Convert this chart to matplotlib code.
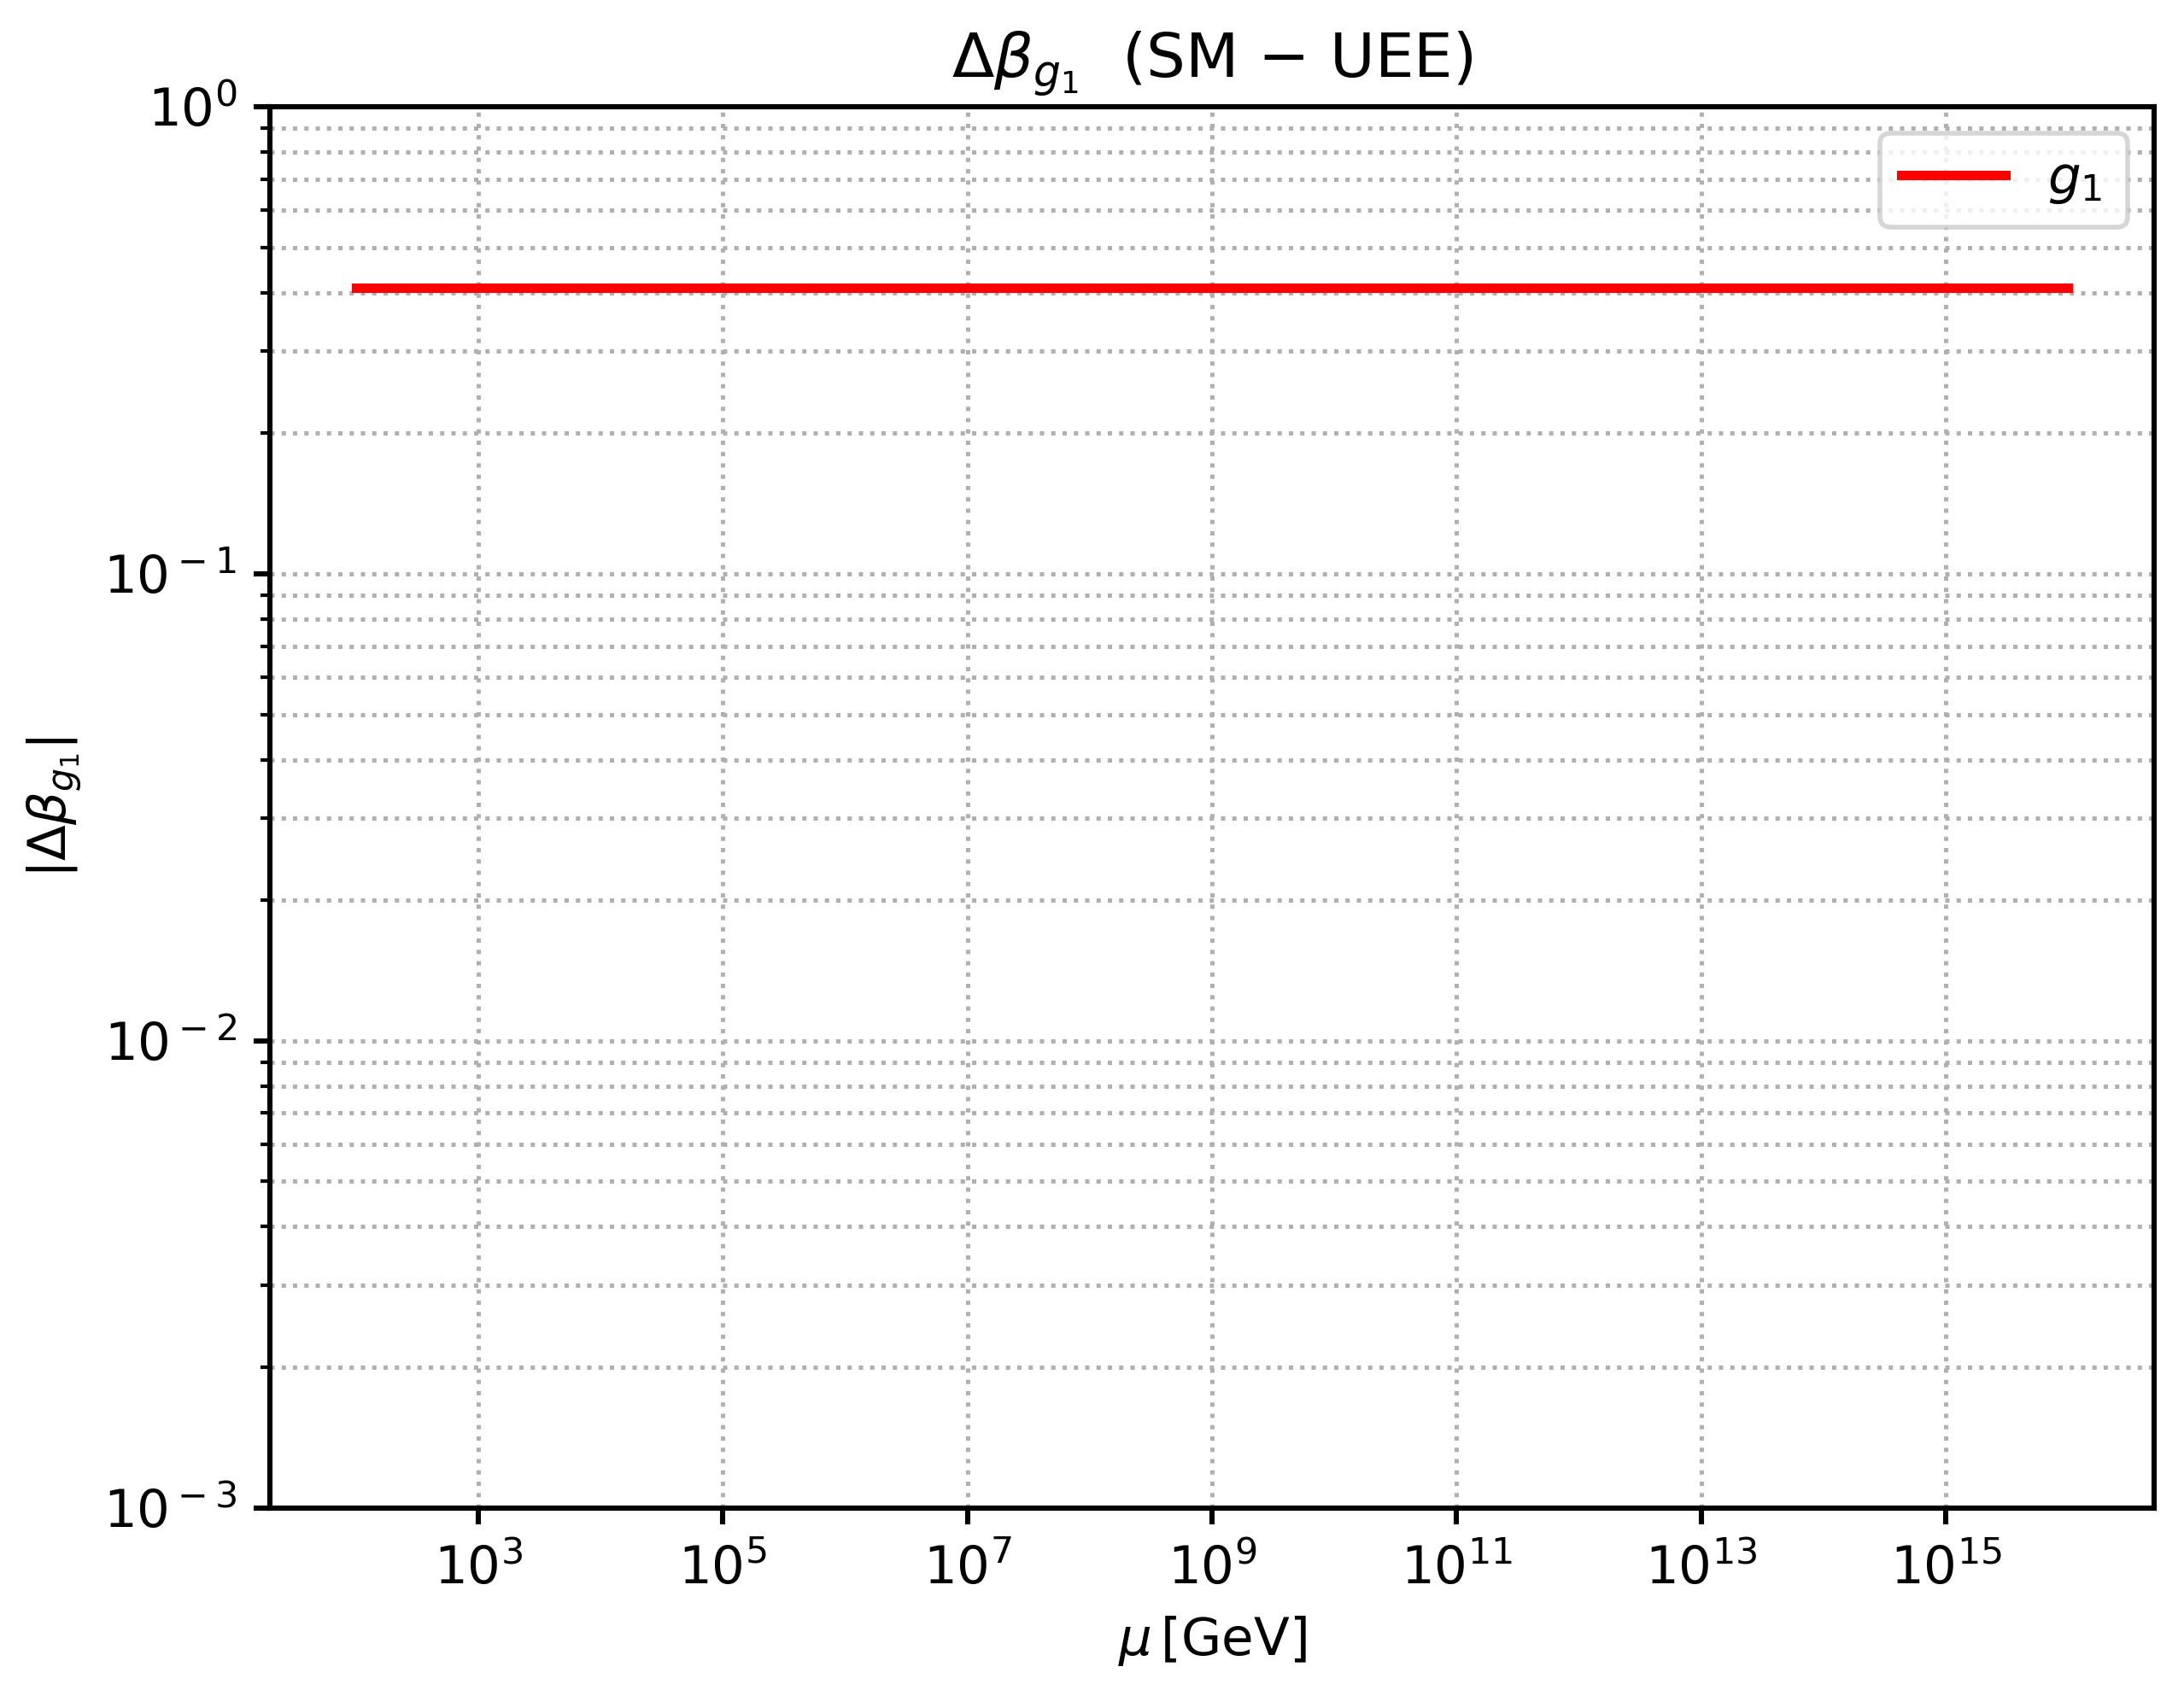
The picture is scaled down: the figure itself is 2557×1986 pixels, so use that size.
import numpy as np
import matplotlib
matplotlib.use("Agg")
import matplotlib.pyplot as plt
from matplotlib.ticker import NullLocator, FixedLocator, FuncFormatter

# Data
mu_gev = [1e2, 1e16]
delta_beta_g1 = [0.41, 0.41]
series_label = "$g_1$\u2009"
x_ticks = [1e3, 1e5, 1e7, 1e9, 1e11, 1e13, 1e15]
y_ticks = [1e-3, 1e-2, 1e-1, 1e0]

def sci_label(v, pos=None):
    e = int(round(np.log10(v)))
    if e < 0:
        return r"$\mathdefault{10^{{}-%d}}$" % (-e)
    return r"$\mathdefault{10^{%d}}$" % e

fig = plt.figure(figsize=(2557/400, 1986/400), dpi=400)
ax = fig.add_axes([0.1237, 0.111, 0.8625, 0.826])

ax.plot(mu_gev, delta_beta_g1, color="red", lw=2.0, label=series_label)
ax.set_xscale("log")
ax.set_yscale("log")
ax.set_ylim(1e-3, 1e0)
ax.xaxis.set_major_locator(FixedLocator(x_ticks))
ax.xaxis.set_minor_locator(NullLocator())
ax.yaxis.set_major_locator(FixedLocator(y_ticks))
ax.xaxis.set_major_formatter(FuncFormatter(sci_label))
ax.yaxis.set_major_formatter(FuncFormatter(sci_label))

for s in ax.spines.values():
    s.set_linewidth(1.1)
ax.tick_params(which="major", width=1.1, length=3.5, labelsize=11)
ax.tick_params(which="minor", width=0.75)
ax.tick_params(axis="x", which="major", pad=4.2)

ax.grid(True, which="both", ls=":", color="#b0b0b0", lw=0.9)

ax.set_title(r"$\Delta\beta_{g_1}$  (SM $-$ UEE)", fontsize=13)
ax.set_xlabel(r"$\mu\,$[GeV]", fontsize=11)
ax.set_ylabel(r"$|\Delta\beta_{g_1}|$", fontsize=11)
ax.legend(loc="upper right", fontsize=11)

fig.savefig("out.png", dpi=400)
